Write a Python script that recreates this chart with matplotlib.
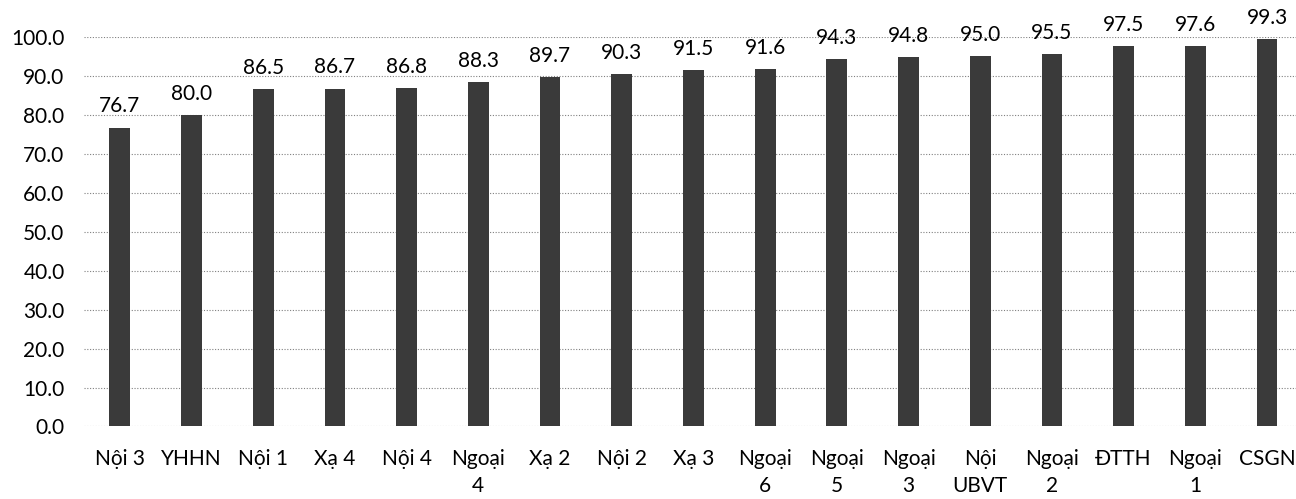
import matplotlib
matplotlib.use("Agg")
import matplotlib.pyplot as plt

categories = ["Nội 3", "YHHN", "Nội 1", "Xạ 4", "Nội 4", "Ngoại\n4", "Xạ 2", "Nội 2",
              "Xạ 3", "Ngoại\n6", "Ngoại\n5", "Ngoại\n3", "Nội\nUBVT", "Ngoại\n2",
              "ĐTTH", "Ngoại\n1", "CSGN"]
values = [76.7, 80.0, 86.5, 86.7, 86.8, 88.3, 89.7, 90.3, 91.5, 91.6, 94.3, 94.8,
          95.0, 95.5, 97.5, 97.6, 99.3]
yticks = [0, 10, 20, 30, 40, 50, 60, 70, 80, 90, 100]

plt.rcParams['font.family'] = ['Lato', 'DejaVu Sans']

fig = plt.figure(figsize=(12.96, 4.99), dpi=100)
ax = fig.add_axes([0.0648, 0.1453, 0.9405, 0.7812])

x = list(range(len(categories)))
ax.bar(x, values, width=0.29, color='#3a3a3a', zorder=3)
for xi, v in zip(x, values):
    ax.annotate(f"{v:.1f}", (xi, v), xytext=(0, 8), textcoords='offset points',
                ha='center', va='bottom', fontsize=15, color='black')

ax.set_xlim(-0.5, len(categories) - 0.5)
ax.set_ylim(0, 100)
ax.set_yticks(yticks)
ax.set_yticklabels([f"{t:.1f}" for t in yticks], fontsize=15, color='black')
ax.set_xticks(x)
ax.set_xticklabels(categories, fontsize=15, color='black', linespacing=1.45)
ax.tick_params(axis='both', length=0)
ax.tick_params(axis='x', pad=16)
ax.tick_params(axis='y', pad=14)
ax.grid(axis='y', color='#808080', linestyle=(0, (1, 1.5)), linewidth=0.8, zorder=0)
for s in ax.spines.values():
    s.set_visible(False)

fig.savefig("out.png", dpi=100)
